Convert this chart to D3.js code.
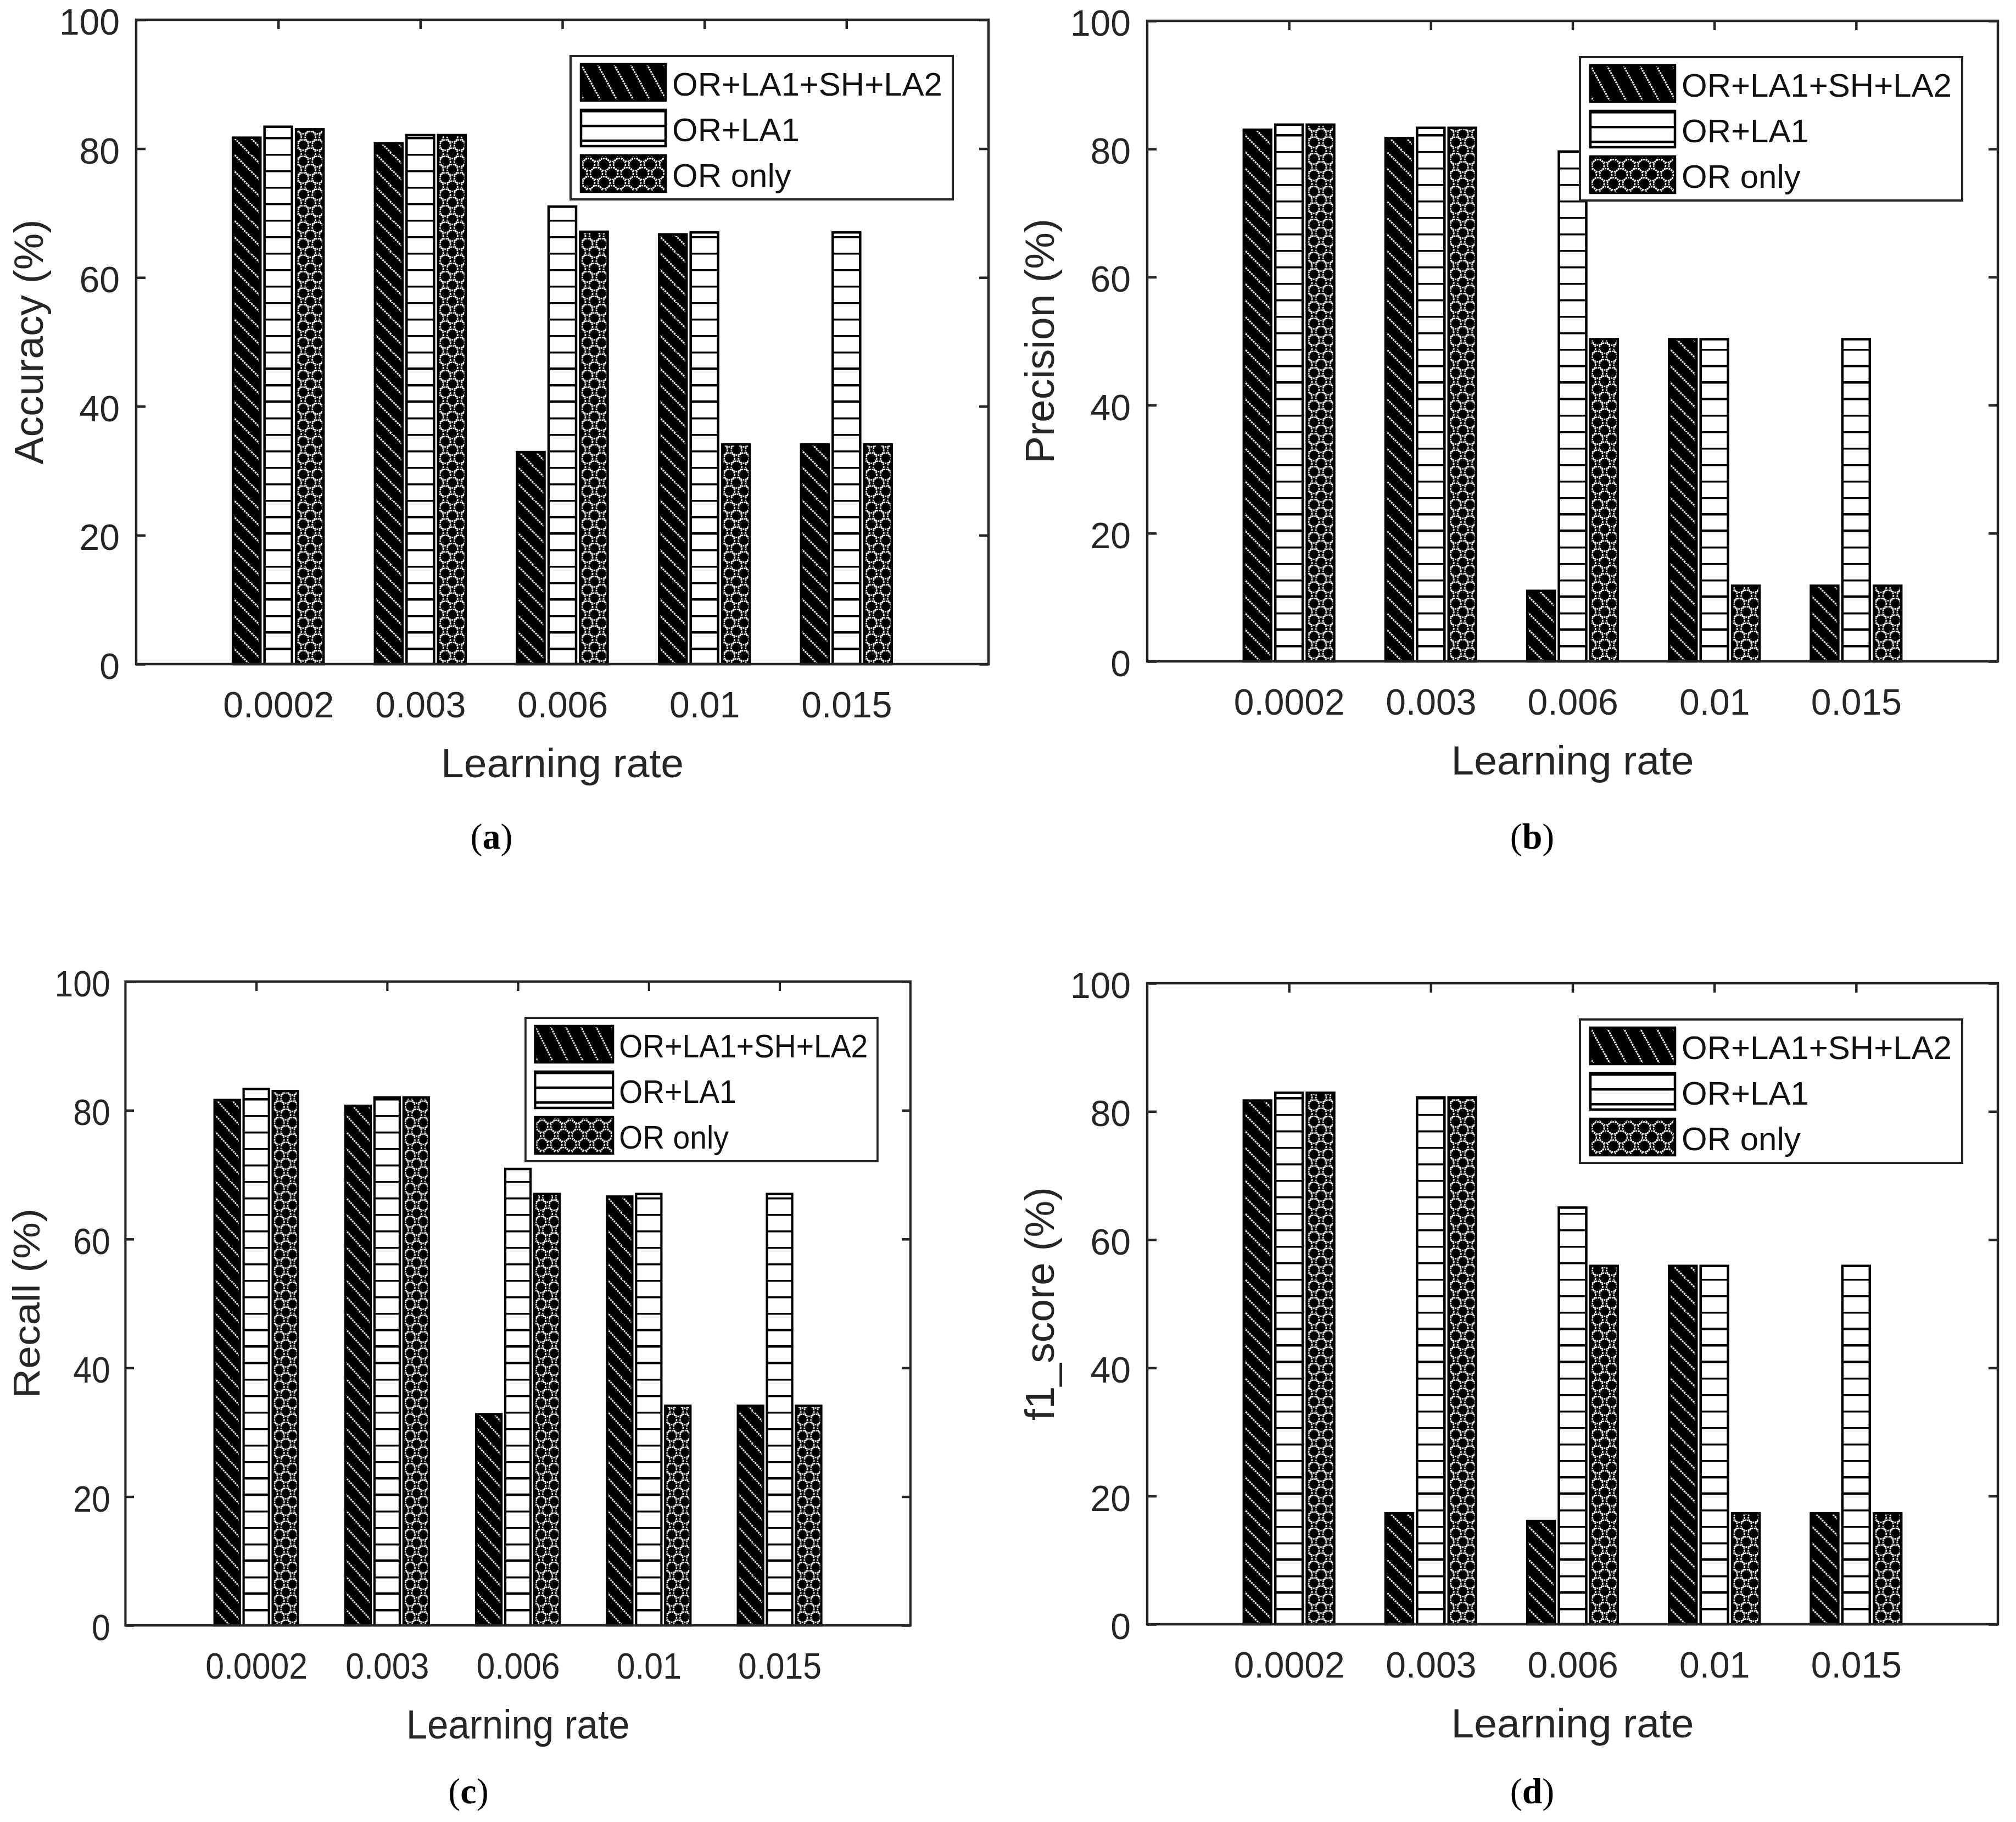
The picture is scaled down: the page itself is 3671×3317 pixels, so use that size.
<!DOCTYPE html>
<html>
<head>
<meta charset="utf-8">
<script src="https://cdn.jsdelivr.net/npm/d3@7"></script>
<style>
  body { margin: 0; background: #fff; }
</style>
</head>
<body>
<svg id="fig" width="3671" height="3317"></svg>
<script>
// ---- data ----
var lrLabels = ["0.0002", "0.003", "0.006", "0.01", "0.015"];
var seriesNames = ["OR+LA1+SH+LA2", "OR+LA1", "OR only"];
var yTicks = [0, 20, 40, 60, 80, 100];

var accFull = [81.7, 80.8, 32.9, 66.7, 34.1];
var accLA1  = [83.4, 82.1, 71.0, 67.0, 67.0];
var accOR   = [83.0, 82.1, 67.1, 34.1, 34.1];

var precFull = [83.0, 81.7, 11.0, 50.3, 11.8];
var precLA1  = [83.8, 83.3, 79.6, 50.3, 50.3];
var precOR   = [83.8, 83.3, 50.3, 11.8, 11.8];

var recFull = [81.6, 80.7, 32.8, 66.6, 34.1];
var recLA1  = [83.3, 82.0, 70.9, 67.0, 67.0];
var recOR   = [83.0, 82.0, 67.0, 34.1, 34.1];

var f1Full = [81.7, 17.3, 16.1, 55.9, 17.3];
var f1LA1  = [82.9, 82.2, 65.0, 55.9, 55.9];
var f1OR   = [82.9, 82.2, 55.9, 17.3, 17.3];

var panels = [
  { ylabel: "Accuracy (%)",  caption: "a", series: [accFull, accLA1, accOR],
    left: 248, right: 1800, top: 36, bottom: 1209, capX: 895, capY: 1545 },
  { ylabel: "Precision (%)", caption: "b", series: [precFull, precLA1, precOR],
    left: 2089, right: 3638, top: 38, bottom: 1204, capX: 2790, capY: 1545 },
  { ylabel: "Recall (%)",    caption: "c", series: [recFull, recLA1, recOR],
    left: 248, right: 1800, top: 1787, bottom: 2959, sx: 0.921, capX: 853, capY: 3283 },
  { ylabel: "f1_score (%)",  caption: "d", series: [f1Full, f1LA1, f1OR],
    left: 2089, right: 3638, top: 1790, bottom: 2957, capX: 2790, capY: 3283 }
];

var ink = "#262626";
var sans = "'Liberation Sans', Arial, Helvetica, sans-serif";
var svg = d3.select("#fig");
var defs = svg.append("defs");

// ---- hatch patterns ----
function diagPattern(id, w, h) {
  var p = defs.append("pattern").attr("id", id).attr("patternUnits", "userSpaceOnUse")
    .attr("width", w).attr("height", h);
  p.append("rect").attr("width", w).attr("height", h).attr("fill", "#000");
  p.append("path")
    .attr("d", "M" + (-w) + ",0L0," + h + "M0,0L" + w + "," + h + "M" + w + ",0L" + (2 * w) + "," + h)
    .attr("stroke", "#fff").attr("stroke-width", 3).attr("stroke-dasharray", "3.2 1.6");
}
function stripePattern(id, h, lw) {
  var p = defs.append("pattern").attr("id", id).attr("patternUnits", "userSpaceOnUse")
    .attr("width", 40).attr("height", h);
  p.append("rect").attr("width", 40).attr("height", h).attr("fill", "#fff");
  p.append("rect").attr("y", 0).attr("width", 40).attr("height", lw).attr("fill", "#000");
}
function circlePattern(id, w, h, r) {
  var p = defs.append("pattern").attr("id", id).attr("patternUnits", "userSpaceOnUse")
    .attr("width", w).attr("height", h);
  p.append("rect").attr("width", w).attr("height", h).attr("fill", "#000");
  [[0, 0], [w, 0], [0, h], [w, h], [w / 2, h / 2]].forEach(function(c) {
    p.append("circle").attr("cx", c[0]).attr("cy", c[1]).attr("r", r)
      .attr("fill", "none").attr("stroke", "#fff").attr("stroke-width", 2.6)
      .attr("stroke-dasharray", "3 1.5");
  });
}
diagPattern("p0", 30, 30);
stripePattern("p1", 30, 4.5);
circlePattern("p2", 26, 30, 9.5);
diagPattern("p0L", 30, 55);
stripePattern("p1L", 27, 4.5);
circlePattern("p2L", 28, 33, 11);

function drawPanel(p) {
  var g = svg.append("g");
  if (p.sx) g.attr("transform", "scale(" + p.sx + ",1)");

  var x = d3.scaleLinear().domain([0, 6]).range([p.left, p.right]);
  var y = d3.scaleLinear().domain([0, 100]).range([p.bottom, p.top]);
  var inner = d3.scaleBand().domain(d3.range(seriesNames.length))
    .range([-1 / 3, 1 / 3]).paddingInner(0.13).paddingOuter(0.065);
  var cats = d3.range(1, lrLabels.length + 1);

  function styleAxis(a, fs) {
    a.attr("color", ink).attr("font-family", sans).attr("font-size", fs);
    a.select(".domain").remove();
    a.selectAll(".tick line").attr("stroke-width", 4.5);
    a.selectAll(".tick text").attr("fill", ink);
  }

  g.append("g").attr("transform", "translate(" + p.left + ",0)")
    .call(d3.axisLeft(y).tickValues(yTicks).tickSize(-17).tickPadding(30))
    .call(styleAxis, 66)
    .call(function(a) { a.selectAll(".tick text").attr("dy", "0.4em"); });
  g.append("g").attr("transform", "translate(" + p.right + ",0)")
    .call(d3.axisRight(y).tickValues(yTicks).tickSize(-17).tickFormat(""))
    .call(styleAxis, 66);
  g.append("g").attr("transform", "translate(0," + p.bottom + ")")
    .call(d3.axisBottom(x).tickValues(cats).tickSize(-17).tickPadding(50)
      .tickFormat(function(d) { return lrLabels[d - 1]; }))
    .call(styleAxis, 66);
  g.append("g").attr("transform", "translate(0," + p.top + ")")
    .call(d3.axisTop(x).tickValues(cats).tickSize(-17).tickFormat(""))
    .call(styleAxis, 66);

  // bars
  p.series.forEach(function(vals, s) {
    g.append("g").selectAll("g.bar")
      .data(vals)
    .enter().append("g")
      .attr("class", "bar")
      .attr("transform", function(d, i) {
        return "translate(" + x(cats[i] + inner(s)) + "," + y(0) + ")";
      })
    .append("rect")
      .attr("x", 0)
      .attr("y", function(d) { return y(d) - y(0); })
      .attr("width", x(inner.bandwidth()) - x(0))
      .attr("height", function(d) { return y(0) - y(d); })
      .attr("fill", "url(#p" + s + ")")
      .attr("stroke", "#000")
      .attr("stroke-width", 4.5);
  });

  // axes box
  g.append("rect")
    .attr("x", p.left).attr("y", p.top)
    .attr("width", p.right - p.left).attr("height", p.bottom - p.top)
    .attr("fill", "none").attr("stroke", ink).attr("stroke-width", 4.5);

  // axis labels
  g.append("text")
    .attr("x", (p.left + p.right) / 2).attr("y", p.bottom + 206)
    .attr("text-anchor", "middle").attr("font-family", sans).attr("font-size", 75)
    .attr("fill", ink).text("Learning rate");
  g.append("text")
    .attr("transform", "translate(" + (p.left - 170) + "," + ((p.top + p.bottom) / 2) + ") rotate(-90)")
    .attr("text-anchor", "middle").attr("font-family", sans).attr("font-size", 75)
    .attr("fill", ink).text(p.ylabel);

  // legend
  var lw = 696, lh = 261;
  var lx = p.right - 65 - lw, ly = p.top + 66;
  var leg = g.append("g").attr("transform", "translate(" + lx + "," + ly + ")");
  leg.append("rect").attr("width", lw).attr("height", lh)
    .attr("fill", "#fff").attr("stroke", ink).attr("stroke-width", 4);
  var rows = [48, 131, 214];
  seriesNames.forEach(function(name, s) {
    var pg = leg.append("g").attr("transform", "translate(19," + (rows[s] - 33) + ")");
    pg.append("rect").attr("width", 154).attr("height", 66)
      .attr("fill", "url(#p" + s + "L)").attr("stroke", "#000").attr("stroke-width", 4.5);
    leg.append("text").attr("x", 185).attr("y", rows[s] + 24)
      .attr("font-family", sans).attr("font-size", 60).attr("fill", "#111")
      .text(name);
  });

  // caption
  var cap = svg.append("text")
    .attr("x", p.capX).attr("y", p.capY).attr("text-anchor", "middle")
    .attr("font-family", "'Liberation Serif', 'DejaVu Serif', serif").attr("font-size", 66)
    .attr("fill", "#000");
  cap.append("tspan").text("(");
  cap.append("tspan").attr("font-weight", "bold").text(p.caption);
  cap.append("tspan").text(")");
}

panels.forEach(drawPanel);
</script>
</body>
</html>
